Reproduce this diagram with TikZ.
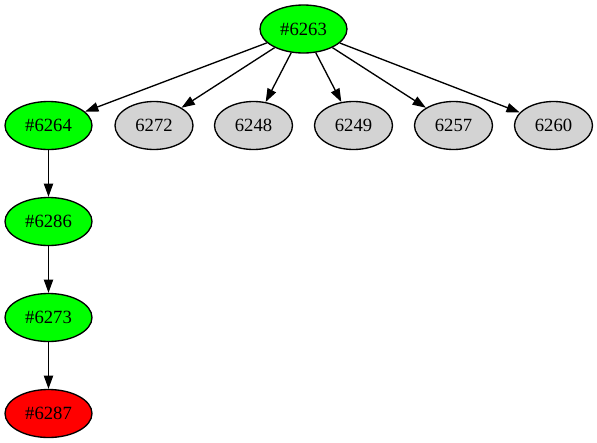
\documentclass[tikz,border=0pt]{standalone}
\usepackage{fontspec}
\setmainfont{Liberation Serif}
\usetikzlibrary{shapes.geometric,arrows.meta}
\definecolor{gvgreen}{HTML}{00FF00}
\definecolor{gvred}{HTML}{FF0000}
\definecolor{gvgray}{HTML}{D3D3D3}
\tikzset{
  gvnode/.style={ellipse,draw=black,line width=1pt,inner sep=0pt,minimum height=36pt,font=\fontsize{14pt}{16pt}\selectfont},
  wide/.style={gvnode,minimum width=65.25pt},
  narrow/.style={gvnode,minimum width=58.5pt},
  gvedge/.style={line width=1pt,-{Triangle[length=10pt,width=7pt]}}
}
\begin{document}
\begin{tikzpicture}[x=0.75pt,y=-0.75pt]
\useasboundingbox (0,0) rectangle (597,443);
\node[wide,fill=gvgreen] (n6263) at (303.5,29) {\#6263};
\node[wide,fill=gvgreen] (n6264) at (48.5,125.5) {\#6264};
\node[narrow,fill=gvgray] (n6272) at (154,125.5) {6272};
\node[narrow,fill=gvgray] (n6248) at (253.5,125.5) {6248};
\node[narrow,fill=gvgray] (n6249) at (353.5,125.5) {6249};
\node[narrow,fill=gvgray] (n6257) at (453.5,125.5) {6257};
\node[narrow,fill=gvgray] (n6260) at (553.5,125.5) {6260};
\node[wide,fill=gvgreen] (n6286) at (48.5,221.5) {\#6286};
\node[wide,fill=gvgreen] (n6273) at (48.5,317.5) {\#6273};
\node[wide,fill=gvred] (n6287) at (48.5,413.5) {\#6287};
\draw[gvedge] (n6263) -- (n6264);
\draw[gvedge] (n6263) -- (n6272);
\draw[gvedge] (n6263) -- (n6248);
\draw[gvedge] (n6263) -- (n6249);
\draw[gvedge] (n6263) -- (n6257);
\draw[gvedge] (n6263) -- (n6260);
\draw[gvedge] (n6264) -- (n6286);
\draw[gvedge] (n6286) -- (n6273);
\draw[gvedge] (n6273) -- (n6287);
\end{tikzpicture}
\end{document}
